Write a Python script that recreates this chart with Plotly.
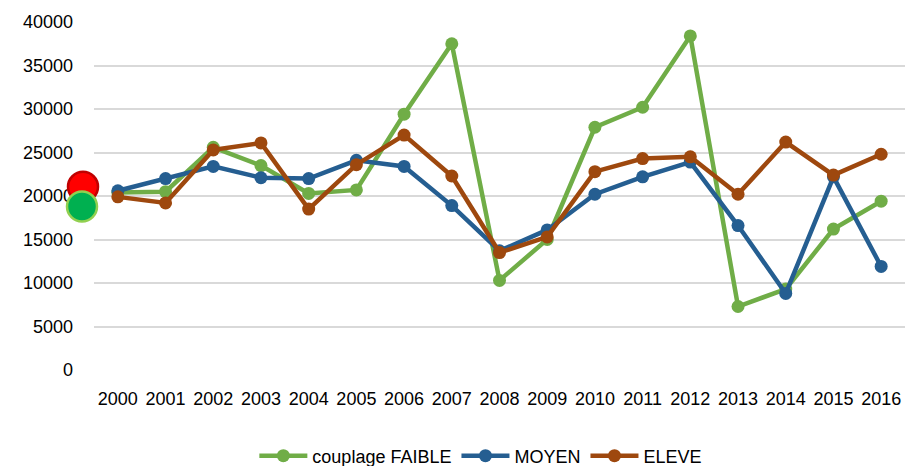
import plotly.graph_objects as go

years = list(range(2000, 2017))
faible = [20400, 20500, 25600, 23500, 20300, 20700, 29400, 37500, 10300, 15000,
          27900, 30200, 38400, 7300, 9300, 16200, 19400]
moyen = [20600, 22000, 23400, 22100, 22000, 24100, 23400, 18900, 13700, 16100,
         20200, 22200, 23900, 16600, 8800, 22200, 11900]
eleve = [19900, 19200, 25300, 26100, 18500, 23600, 27000, 22300, 13500, 15300,
         22800, 24300, 24500, 20200, 26200, 22400, 24800]

# big indicator dots drawn at the left of the plot area (value on y axis)
dot_y = [21050, 18800]
dot_fill = ["#FF0000", "#00B050"]
dot_line = ["#C00000", "#92D050"]

names = ["couplage FAIBLE", "MOYEN", "ELEVE"]
colors = ["#70AD47", "#255E91", "#9E480E"]
series = [faible, moyen, eleve]

W, H = 910, 466
ML, MR, MT, MB = 94, 5, 22, 96
PW, PH = W - ML - MR, H - MT - MB
YMAX = 40000

fig = go.Figure()
for name, col, vals in zip(names, colors, series):
    fig.add_trace(go.Scatter(
        x=years, y=vals, name=name, mode="lines+markers",
        line=dict(color=col, width=4.5),
        marker=dict(color=col, size=13),
    ))

shapes = []
dot_cx = [83, 82]
for cx, v, fc, lc in zip(dot_cx, dot_y, dot_fill, dot_line):
    xc = (cx - ML) / PW
    yc = v / YMAX
    rx, ry = 15 / PW, 15 / PH
    shapes.append(dict(type="circle", xref="paper", yref="paper",
                       x0=xc - rx, x1=xc + rx, y0=yc - ry, y1=yc + ry,
                       fillcolor=fc, line=dict(color=lc, width=2.5), layer="above"))

fig.update_layout(
    width=W, height=H,
    margin=dict(l=ML, r=MR, t=MT, b=MB),
    paper_bgcolor="white", plot_bgcolor="white",
    font=dict(family="Liberation Sans", size=18, color="#000000"),
    showlegend=True,
    legend=dict(orientation="h", x=0.477, xanchor="center",
                yref="container", y=(H - 456) / H, yanchor="middle",
                font=dict(size=18), itemwidth=48, tracegroupgap=0),
    shapes=shapes,
    xaxis=dict(range=[1999.5, 2016.5], tickvals=years, ticktext=[str(y) for y in years],
               showgrid=False, zeroline=False, showline=False, ticks="",
               tickfont=dict(size=18), ticklabelstandoff=16, automargin=False,
               fixedrange=True),
    yaxis=dict(range=[0, YMAX], dtick=5000, showgrid=True, gridcolor="#D9D9D9",
               gridwidth=1.5, zeroline=False, showline=False, ticks="",
               tickfont=dict(size=18), ticklabelstandoff=20, tickformat="d",
               automargin=False, fixedrange=True),
)

fig.write_html("out.html", config={"displayModeBar": False},
               post_script="document.body.style.margin='0px';document.body.style.overflow='hidden';")
